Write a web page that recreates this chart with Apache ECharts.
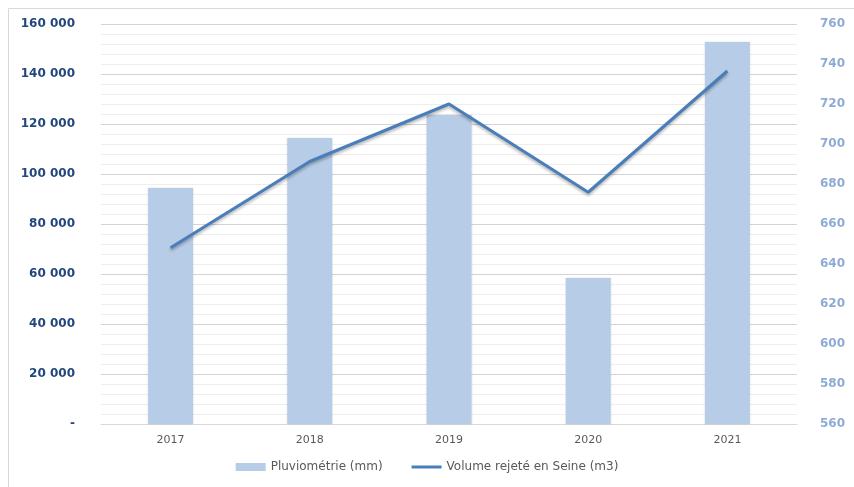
<!DOCTYPE html>
<html>
<head>
<meta charset="utf-8">
<script src="https://cdn.jsdelivr.net/npm/echarts@6/dist/echarts.min.js"></script>
<style>
  html, body { margin: 0; padding: 0; background: #ffffff; }
  #chart { width: 854px; height: 487px; }
</style>
</head>
<body>
<div id="chart"></div>
<script>
// Years on the category axis
const years = ['2017', '2018', '2019', '2020', '2021'];
// Rainfall in mm (right axis, bars)
const pluviometrie = [678, 703, 714.5, 633, 751];
// Volume discharged into the Seine in m3 (left axis, line)
const volumeRejete = [70500, 105000, 128000, 92700, 141200];

const seriesNames = ['Pluviométrie (mm)', 'Volume rejeté en Seine (m3)'];

const font = 'DejaVu Sans';

// Thin horizontal stroke for the line legend key; the two empty sub-paths keep the full 30x8 box
const lineKey = 'path://M0,0L0,0ZM0,8L0,8ZM0,2.6L30,2.6L30,5.4L0,5.4Z';

function formatThousands(v) {
  if (v === 0) return '-';
  return String(v).replace(/\B(?=(\d{3})+(?!\d))/g, ' ');
}

const chart = echarts.init(document.getElementById('chart'), null, { renderer: 'canvas' });

chart.setOption({
  backgroundColor: '#ffffff',
  animation: false,
  textStyle: { fontFamily: font },
  graphic: [{
    type: 'rect',
    shape: { x: 8.5, y: 8.5, width: 900, height: 900 },
    style: { fill: 'none', stroke: '#d9d9d9', lineWidth: 1 },
    silent: true,
    z: -10
  }],
  grid: { left: 101, right: 57, top: 24, bottom: 63, containLabel: false },
  legend: {
    bottom: 9,
    left: 'center',
    itemGap: 29,
    itemWidth: 30,
    itemHeight: 8,
    textStyle: { color: '#595959', fontSize: 12, fontFamily: font },
    data: [
      { name: seriesNames[0], icon: 'rect' },
      { name: seriesNames[1], icon: lineKey, itemStyle: { color: '#4a7ebb' } }
    ]
  },
  xAxis: {
    type: 'category',
    data: years,
    axisLine: { show: true, lineStyle: { color: '#d9d9d9', width: 1 } },
    axisTick: { show: false },
    axisLabel: { color: '#595959', fontSize: 11, margin: 11, fontFamily: font },
    splitLine: { show: false }
  },
  yAxis: [
    {
      type: 'value',
      position: 'left',
      min: 0,
      max: 160000,
      interval: 20000,
      axisLine: { show: false },
      axisTick: { show: false },
      axisLabel: {
        color: '#23477d',
        fontWeight: 'bold',
        fontSize: 12,
        margin: 26,
        fontFamily: font,
        formatter: formatThousands
      },
      splitLine: { show: true, lineStyle: { color: '#d4d4d4', width: 1 } },
      minorTick: { show: false, splitNumber: 5 },
      minorSplitLine: { show: true, lineStyle: { color: '#eeeeee', width: 1 } }
    },
    {
      type: 'value',
      position: 'right',
      min: 560,
      max: 760,
      interval: 20,
      startValue: 560,
      axisLine: { show: false },
      axisTick: { show: false },
      axisLabel: {
        color: '#8eabd6',
        fontWeight: 'bold',
        fontSize: 12,
        margin: 23,
        fontFamily: font
      },
      splitLine: { show: false }
    }
  ],
  series: [
    {
      name: seriesNames[0],
      type: 'bar',
      yAxisIndex: 1,
      data: pluviometrie,
      barWidth: 45,
      clip: true,
      itemStyle: {
        color: '#b7cce6',
        shadowColor: 'rgba(0,0,0,0.12)',
        shadowBlur: 2
      },
      z: 2
    },
    {
      name: seriesNames[1],
      type: 'line',
      yAxisIndex: 0,
      data: volumeRejete,
      symbol: 'none',
      lineStyle: {
        color: '#4a7ebb',
        width: 3,
        shadowColor: 'rgba(0,0,0,0.3)',
        shadowBlur: 3,
        shadowOffsetY: 2
      },
      itemStyle: { color: '#4a7ebb' },
      z: 3
    }
  ]
});
</script>
</body>
</html>
